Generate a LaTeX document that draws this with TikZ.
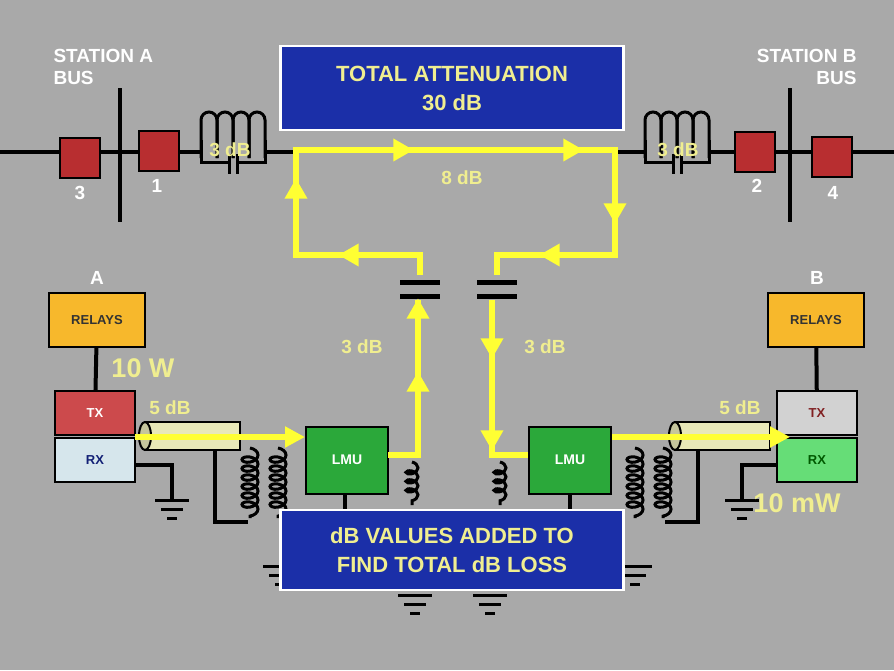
\documentclass[tikz,border=0pt]{standalone}
\usepackage{fontspec}
\setmainfont{Liberation Sans}
\usetikzlibrary{arrows.meta,decorations.pathmorphing,shapes.geometric}
\definecolor{bg}{HTML}{A9A9A9}
\definecolor{bluebox}{HTML}{1B2FA8}
\definecolor{ylw}{HTML}{FFFF33}
\definecolor{lbl}{HTML}{F0EE90}
\definecolor{redbox}{HTML}{B82E30}
\definecolor{relay}{HTML}{F7B82C}
\definecolor{lmu}{HTML}{2BA83A}
\definecolor{txa}{HTML}{CC4A4C}
\definecolor{rxa}{HTML}{D6E6EC}
\definecolor{txb}{HTML}{D2D2D2}
\definecolor{rxb}{HTML}{66DD77}
\definecolor{coax}{HTML}{E8E8B8}
\tikzset{
  blk/.style={line width=4pt,black},
  ypath/.style={line width=6pt,ylw},
  ytri/.style={isosceles triangle,isosceles triangle apex angle=60,fill=ylw,inner sep=0pt,minimum height=20pt,minimum width=20pt},
  bigbox/.style={draw=white,line width=2.5pt,fill=bluebox,text=lbl,font=\bfseries\fontsize{22}{29}\selectfont,align=center,minimum width=343pt},
  rbox/.style={draw=black,line width=1.5pt,fill=redbox,minimum width=40pt,minimum height=40pt},
  relaybox/.style={draw=black,line width=2pt,fill=relay,minimum width=96pt,minimum height=54pt,font=\bfseries\fontsize{13}{13}\selectfont,text=black!80},
  trx/.style={draw=black,line width=2pt,minimum width=80pt,minimum height=44pt,font=\bfseries\fontsize{13}{13}\selectfont},
  lmubox/.style={draw=black,line width=2pt,fill=lmu,minimum width=82pt,minimum height=67pt,text=white,font=\bfseries\fontsize{14}{14}\selectfont},
  wlab/.style={text=white,font=\bfseries\fontsize{19}{22}\selectfont},
  ylab/.style={text=lbl,font=\bfseries\fontsize{19}{22}\selectfont},
  coil/.style={line width=3pt,black,decorate,decoration={coil,aspect=0.6,amplitude=#1,segment length=9pt}},
}
\newcommand{\gnd}[2]{\draw[line width=3pt] (#1-17,#2)--(#1+17,#2) (#1-11,#2+9)--(#1+11,#2+9) (#1-5,#2+18)--(#1+5,#2+18);}
\newcommand{\yah}[3]{\node[ytri,rotate=#3] at (#1,#2) {};}
\begin{document}
\begin{tikzpicture}[x=1pt,y=-1pt]
\fill[bg] (0,0) rectangle (894,670);
\useasboundingbox (0,0) rectangle (894,670);
% main line
\draw[blk] (0,152)--(200,152);
\draw[blk] (266,152)--(295,152);
\draw[blk] (612,152)--(644,152);
\draw[blk] (710,152)--(894,152);
\draw[blk] (120,88)--(120,222);
\draw[blk] (790,88)--(790,222);
\node[rbox] (b3) at (80,158) {};
\node[rbox] (b1) at (159,151) {};
\node[rbox] (b2) at (755,152) {};
\node[rbox] (b4) at (832,157) {};
\node[wlab] at (80,193) {3};
\node[wlab] at (157,186) {1};
\node[wlab] at (757,186) {2};
\node[wlab] at (833,193) {4};
\node[wlab,align=left,anchor=north west] at (50,46) {STATION A\\BUS};
\node[wlab,align=right,anchor=north east] at (860,46) {STATION B\\BUS};
% line traps
\foreach \cx in {233,677}{
  \foreach \i in {0,1,2,3}{
    \draw[line width=3pt] (\cx-24+16*\i-8,158)--(\cx-24+16*\i-8,120) arc(180:360:8)--(\cx-24+16*\i+8,158);
  }
  \draw[line width=3pt] (\cx-32,140)--(\cx-32,162)--(\cx-4,162) (\cx+4,162)--(\cx+32,162)--(\cx+32,140);
  \draw[line width=3pt] (\cx-4,154)--(\cx-4,174) (\cx+4,154)--(\cx+4,174);
}
\node[ylab] at (230,150) {3 dB};
\node[ylab] at (678,150) {3 dB};
% title
\node[bigbox,minimum height=84pt] (title) at (452,88) {TOTAL ATTENUATION\\30 dB};
% yellow loop
\draw[ypath,line join=miter] (420,275)--(420,255)--(296,255)--(296,150)--(615,150)--(615,255)--(497,255)--(497,275);
\yah{400}{150}{0}
\yah{570}{150}{0}
\yah{615}{210}{-90}
\yah{553}{255}{180}
\yah{352}{255}{180}
\yah{296}{192}{90}
\node[ylab] at (462,178) {8 dB};
% couplers
\foreach \cx in {420,497}{
  \draw[line width=5pt] (\cx-20,282)--(\cx+20,282) (\cx-20,296)--(\cx+20,296);
}
% LMUs
\node[lmubox] (lmuA) at (347,460) {LMU};
\node[lmubox] (lmuB) at (570,460) {LMU};
\draw[ypath] (388,455)--(418,455)--(418,300);
\draw[ypath] (492,300)--(492,455)--(528,455);
\yah{418}{312}{90}
\yah{418}{385}{90}
\yah{492}{345}{-90}
\yah{492}{437}{-90}
\node[ylab] at (362,347) {3 dB};
\node[ylab] at (545,347) {3 dB};
% drain coils
\draw[coil=6pt] (412,462)--(412,505);
\draw[coil=6pt] (500,462)--(500,505);
% relays and tx/rx
\node[wlab] at (97,278) {A};
\node[wlab] at (817,278) {B};
\node[relaybox] (relA) at (97,320) {RELAYS};
\node[relaybox] (relB) at (816,320) {RELAYS};
\node[trx,fill=txa,text=white] (txA) at (95,413) {TX};
\node[trx,fill=rxa,text=bluebox!70!black] (rxA) at (95,460) {RX};
\node[trx,fill=txb,text=redbox!70!black] (txB) at (817,413) {TX};
\node[trx,fill=rxb,text=green!35!black] (rxB) at (817,460) {RX};
\draw[blk] (relA)--(txA);
\draw[blk] (relB)--(txB);
% grounds and transformers left
\draw[line width=4pt] (rxA.east|-0,465)--(172,465)--(172,500);
\gnd{172}{500}
\draw[line width=4pt] (215,445)--(215,522)--(248,522);
\draw[coil=8pt] (250,448)--(250,518);
\draw[coil=8pt] (278,448)--(278,518);
\draw[line width=4pt] (345,493)--(345,512);
% right
\draw[line width=4pt] (rxB.west|-0,465)--(742,465)--(742,500);
\gnd{742}{500}
\draw[line width=4pt] (698,445)--(698,522)--(665,522);
\draw[coil=8pt] (663,448)--(663,518);
\draw[coil=8pt] (635,448)--(635,518);
\draw[line width=4pt] (570,493)--(570,512);
% coax cylinders
\foreach \x in {145,675}{
  \draw[line width=2pt,fill=coax] (\x,422) rectangle (\x+95,450);
  \draw[line width=2pt,fill=coax!85!black] (\x,436) ellipse (6 and 14);
}
\draw[ypath,-{Triangle[width=20pt,length=20pt]}] (135,437)--(305,437);
\draw[ypath,-{Triangle[width=20pt,length=20pt]}] (612,437)--(790,437);
\node[ylab] at (170,408) {5 dB};
\node[ylab] at (740,408) {5 dB};
\node[ylab,font=\bfseries\fontsize{27}{30}\selectfont] at (143,368) {10 W};
\node[ylab,font=\bfseries\fontsize{27}{30}\selectfont] at (797,503) {10 mW};
% bottom grounds
\gnd{280}{566}
\gnd{635}{566}
\gnd{415}{595}
\gnd{490}{595}
% bottom box
\node[bigbox,minimum height=80pt] (note) at (452,550) {dB VALUES ADDED TO\\FIND TOTAL dB LOSS};
\end{tikzpicture}
\end{document}
